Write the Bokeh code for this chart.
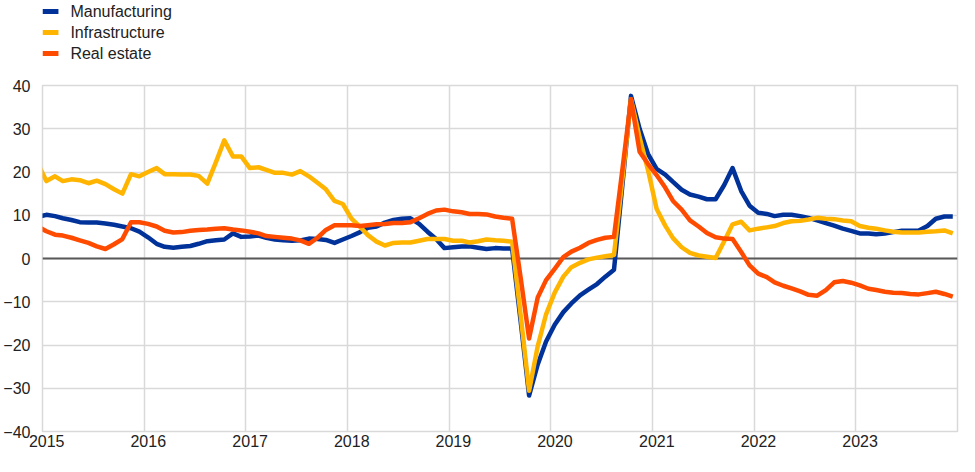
import pandas as pd
from datetime import datetime
from bokeh.plotting import figure
from bokeh.layouts import column
from bokeh.core.properties import value
from bokeh.models import Range1d, FixedTicker, DatetimeTickFormatter, Span, ColumnDataSource
from bokeh.embed import file_html
from bokeh.resources import INLINE

# monthly observations, Dec 2014 .. Dec 2023 (plotted mid-month)
months = pd.date_range("2014-12-01", periods=109, freq="MS") + pd.Timedelta(days=14)

manufacturing = [9.6, 10.1, 9.8, 9.3, 8.9, 8.4, 8.3, 8.3, 8.1, 7.8, 7.4, 7.0, 6.2,
                 4.9, 3.4, 2.7, 2.5, 2.7, 2.9, 3.4, 4.0, 4.2, 4.4, 5.8, 5.0,
                 5.1, 5.3, 4.8, 4.4, 4.2, 4.1, 4.2, 4.6, 4.5, 4.3, 3.6, 4.4,
                 5.2, 6.1, 7.1, 7.4, 8.3, 8.9, 9.2, 9.3, 8.0, 6.2, 4.5, 2.4,
                 2.6, 2.8, 2.8, 2.5, 2.2, 2.4, 2.3, 2.3, -14.7, -31.7, -24.5, -19.2,
                 -15.3, -12.4, -10.4, -8.5, -7.2, -5.9, -4.2, -2.6, 17.5, 37.6, 30.0, 24.2,
                 20.7, 19.4, 17.7, 15.9, 14.8, 14.3, 13.7, 13.7, 17.0, 20.9, 15.6, 12.2,
                 10.6, 10.3, 9.8, 10.1, 10.1, 9.8, 9.4, 8.8, 8.2, 7.6, 6.9, 6.4,
                 5.8, 5.8, 5.6, 5.8, 6.1, 6.4, 6.4, 6.5, 7.5, 9.2, 9.7, 9.7]

infrastructure = [22.0, 17.9, 19.0, 17.9, 18.3, 18.1, 17.4, 18.0, 17.2, 16.0, 15.0, 19.5, 19.0,
                  20.0, 20.9, 19.5, 19.5, 19.4, 19.4, 19.1, 17.3, 22.3, 27.3, 23.6, 23.6,
                  20.9, 21.1, 20.5, 19.8, 19.8, 19.4, 20.2, 19.0, 17.5, 16.0, 13.3, 12.6,
                  9.2, 7.3, 5.4, 3.9, 3.0, 3.6, 3.7, 3.7, 4.1, 4.5, 4.5, 4.5,
                  4.1, 4.1, 3.7, 4.0, 4.4, 4.2, 4.1, 3.9, -13.3, -30.6, -20.3, -12.9,
                  -7.9, -4.2, -2.0, -1.0, -0.2, 0.2, 0.5, 0.8, 18.8, 36.8, 28.0, 20.5,
                  11.5, 7.6, 4.7, 2.6, 1.3, 0.7, 0.4, 0.1, 4.0, 7.9, 8.5, 6.5,
                  6.9, 7.2, 7.5, 8.2, 8.6, 8.7, 9.0, 9.4, 9.2, 9.1, 8.8, 8.6,
                  7.5, 7.1, 6.9, 6.5, 6.2, 6.0, 6.0, 6.0, 6.2, 6.3, 6.5, 5.8]

real_estate = [7.4, 6.3, 5.5, 5.3, 4.8, 4.2, 3.6, 2.8, 2.2, 3.3, 4.5, 8.4, 8.4,
               8.0, 7.4, 6.4, 6.0, 6.1, 6.4, 6.6, 6.7, 6.9, 7.0, 6.7, 6.5,
               6.2, 5.8, 5.2, 5.0, 4.8, 4.6, 4.2, 3.4, 4.8, 6.6, 7.7, 7.7,
               7.7, 7.5, 7.7, 7.9, 8.0, 8.2, 8.2, 8.4, 9.3, 10.3, 11.1, 11.3,
               10.9, 10.7, 10.3, 10.3, 10.2, 9.7, 9.4, 9.2, -4.6, -18.5, -9.0, -5.0,
               -2.4, 0.3, 1.6, 2.5, 3.6, 4.3, 4.8, 5.0, 21.0, 36.8, 24.7, 21.9,
               19.3, 16.4, 13.3, 11.3, 8.8, 7.4, 5.9, 4.9, 4.6, 4.5, 1.5, -1.6,
               -3.5, -4.3, -5.5, -6.3, -6.9, -7.6, -8.4, -8.6, -7.3, -5.5, -5.2, -5.6,
               -6.2, -7.0, -7.3, -7.7, -7.9, -8.0, -8.2, -8.3, -8.0, -7.7, -8.2, -8.8]

series_names = ["Manufacturing", "Infrastructure", "Real estate"]
series_colors = ["#003299", "#ffb400", "#ff4b00"]
year_ticks = list(range(2015, 2024))
y_ticks = [-40, -30, -20, -10, 0, 10, 20, 30, 40]

FONT = "Liberation Sans"
TEXT_COLOR = "#222222"

W = 959
LEFT, RIGHT = 39, 2
FRAME_W = W - LEFT - RIGHT
LEG_H = 66
MAIN_H = 390
ROW = 21          # legend row pitch (px)
ROW0 = 11         # centre of first legend row, from top (px)

# ---- legend strip: a small figure whose data units are pixels of its frame ----
lg = figure(width=W, height=LEG_H, output_backend="svg", toolbar_location=None,
            title=None, x_axis_location=None, y_axis_location=None,
            x_range=Range1d(0, FRAME_W), y_range=Range1d(0, LEG_H),
            min_border_left=LEFT, min_border_right=RIGHT,
            min_border_top=0, min_border_bottom=0)
lg.outline_line_color = None
lg.xgrid.visible = False
lg.ygrid.visible = False
lg.background_fill_color = "white"
lg.border_fill_color = "white"

row_y = [LEG_H - (ROW0 + ROW * k) for k in range(len(series_names))]
leg_src = ColumnDataSource(dict(name=series_names, color=series_colors, y=row_y,
                                x0=[0] * 3, x1=[16] * 3, xt=[28] * 3))
lg.segment(x0="x0", y0="y", x1="x1", y1="y", source=leg_src,
           line_color="color", line_width=5)
lg.text(x="xt", y="y", text="name", source=leg_src, text_baseline="middle",
        text_align="left", text_font=value(FONT), text_font_size="16px",
        text_color=TEXT_COLOR)

# ---- main chart ----
src = ColumnDataSource(dict(date=months, Manufacturing=manufacturing,
                            Infrastructure=infrastructure, RealEstate=real_estate))
cols = ["Manufacturing", "Infrastructure", "RealEstate"]

p = figure(width=W, height=MAIN_H, x_axis_type="datetime",
           output_backend="svg", toolbar_location=None, title=None,
           x_range=Range1d(datetime(2015, 1, 1), datetime(2024, 1, 1)),
           y_range=Range1d(-40, 40),
           min_border_left=LEFT, min_border_right=RIGHT,
           min_border_top=19, min_border_bottom=25)

p.background_fill_color = "white"
p.border_fill_color = "white"
p.outline_line_color = "#d9d9d9"
p.outline_line_width = 1.5

grid_ms = [datetime(y, 1, 1).timestamp() * 1000 for y in year_ticks]
label_ms = [datetime(y, 1, 16).timestamp() * 1000 for y in year_ticks]
p.xaxis.ticker = FixedTicker(ticks=label_ms)
p.xgrid.ticker = FixedTicker(ticks=grid_ms)
p.xaxis.formatter = DatetimeTickFormatter(years="%Y", months="%Y", days="%Y", hours="%Y")
p.yaxis.ticker = FixedTicker(ticks=y_ticks)

for ax in (p.xaxis, p.yaxis):
    ax.axis_line_color = None
    ax.major_tick_line_color = None
    ax.minor_tick_line_color = None
    ax.major_tick_out = 0
    ax.major_tick_in = 0
    ax.minor_tick_out = 0
    ax.major_label_text_font = FONT
    ax.major_label_text_font_size = "16px"
    ax.major_label_text_color = TEXT_COLOR
p.yaxis.major_label_standoff = 12
p.xaxis.major_label_standoff = 3

p.xgrid.grid_line_color = "#d9d9d9"
p.ygrid.grid_line_color = "#d9d9d9"
p.xgrid.grid_line_width = 1.5
p.ygrid.grid_line_width = 1.5

zero = Span(location=0, dimension="width", line_color="#595959", line_width=2, level="underlay")
p.add_layout(zero)

for col, color in zip(cols, series_colors):
    p.line("date", col, source=src, line_color=color, line_width=4.5, line_join="round")

layout = column(lg, p, spacing=0)
open("out.html", "w").write(file_html(layout, INLINE))
